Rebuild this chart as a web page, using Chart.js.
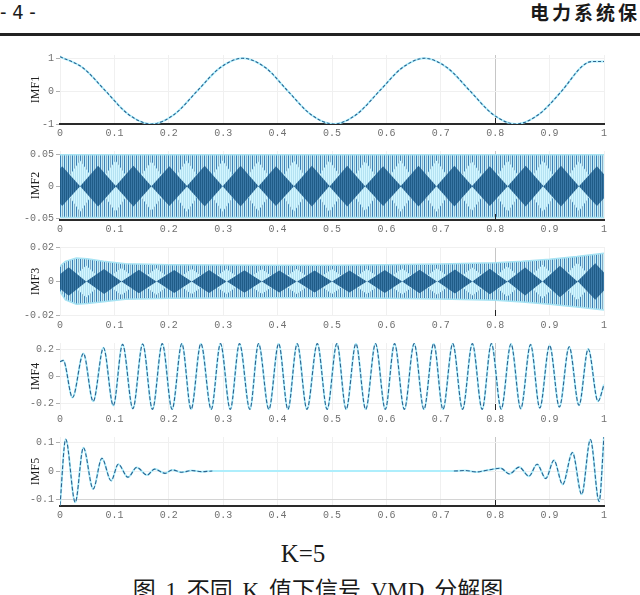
<!DOCTYPE html>
<html><head><meta charset="utf-8">
<script src="https://cdn.jsdelivr.net/npm/chart.js@4/dist/chart.umd.min.js"></script>
<style>
html,body{margin:0;padding:0;background:#fff;width:640px;height:595px;overflow:hidden;position:relative}
canvas{position:absolute;left:0}
.t{position:absolute;white-space:nowrap;color:#1a1a1a}
#pg{left:0;top:1px;font:20px 'Liberation Sans Narrow','DejaVu Sans Condensed',sans-serif;line-height:22px}
#hd{left:530px;top:1px;font:bold 19px 'Noto Sans CJK SC';letter-spacing:3px;line-height:22px}
#rule{position:absolute;left:0;top:33px;width:640px;height:3px;background:#222}
#k{left:0;width:606px;text-align:center;top:541px;font:25px 'Liberation Serif';line-height:25px}
#cap{left:0;width:636px;text-align:center;top:579px;font:23px 'Liberation Serif','Noto Sans CJK SC';line-height:23px;word-spacing:4px}
</style></head><body>
<div class="t" id="pg">- 4 -</div>
<div class="t" id="hd">电力系统保</div>
<div id="rule"></div>
<canvas id="c1"></canvas>
<canvas id="c2"></canvas>
<canvas id="c3"></canvas>
<canvas id="c4"></canvas>
<canvas id="c5"></canvas>
<div class="t" id="k">K=5</div>
<div class="t" id="cap">图 1 不同 K 值下信号 VMD 分解图</div>
<script>
// ---------- data ----------
const xTickValues = [0,0.1,0.2,0.3,0.4,0.5,0.6,0.7,0.8,0.9,1];
const xTickLabels = ['0','0.1','0.2','0.3','0.4','0.5','0.6','0.7','0.8','0.9','1'];
const xGridMark = 0.8;

// IMF1
const imf1T = [0,0.042,0.084,0.126,0.168,0.210,0.252,0.294,0.336,0.378,0.419,0.461,0.503,0.545,0.587,0.629,0.670,0.712,0.754,0.796,0.838,0.880,0.922,0.960,0.978,1.0];
const imf1V = [1.05,0.71,0,-0.71,-1.0,-0.71,0,0.71,1.0,0.71,0,-0.71,-1.0,-0.71,0,0.71,1.0,0.71,0,-0.71,-1.0,-0.71,0,0.76,0.9,0.9];
const imf1YTicks = [-1,0,1];
const imf1YLabels = ['-1','0','1'];

// IMF2 (dense oscillation: band envelope + beat lenses)
const imf2EnvT = [0,0.25,0.5,0.75,1];
const imf2Upper = [0.049,0.049,0.049,0.049,0.049];
const imf2Lower = [-0.049,-0.049,-0.049,-0.049,-0.049];
const imf2DarkT = [0.004,0.070,0.135,0.201,0.266,0.332,0.397,0.463,0.528,0.594,0.659,0.725,0.790,0.856,0.921,0.987];
const imf2DarkA = [0.031,0.032,0.032,0.031,0.032,0.032,0.031,0.032,0.032,0.031,0.032,0.032,0.031,0.032,0.032,0.031];
const imf2LightT = [0.037,0.102,0.168,0.233,0.299,0.364,0.430,0.495,0.561,0.626,0.692,0.757,0.823,0.888,0.954];
const imf2LightA = [0.040,0.040,0.039,0.040,0.040,0.039,0.040,0.040,0.039,0.040,0.040,0.039,0.040,0.040,0.039];
const imf2YTicks = [-0.05,0,0.05];
const imf2YLabels = ['-0.05','0','0.05'];

// IMF3
const imf3EnvT = [0,0.01,0.03,0.05,0.08,0.12,0.2,0.3,0.4,0.5,0.6,0.7,0.8,0.85,0.9,0.95,1.0];
const imf3Upper = [0.009,0.012,0.014,0.0135,0.012,0.0105,0.0100,0.0098,0.0097,0.0097,0.0100,0.0104,0.0112,0.0120,0.0132,0.0148,0.0168];
const imf3Lower = [-0.006,-0.011,-0.0135,-0.013,-0.012,-0.0105,-0.0100,-0.0098,-0.0097,-0.0097,-0.0100,-0.0104,-0.0112,-0.0122,-0.0135,-0.0152,-0.0170];
const imf3DarkT = [0.016,0.081,0.145,0.210,0.274,0.339,0.403,0.468,0.532,0.597,0.661,0.726,0.790,0.855,0.919,0.984];
const imf3DarkA = [0.0085,0.0075,0.0070,0.0068,0.0068,0.0067,0.0066,0.0066,0.0066,0.0068,0.0070,0.0072,0.0076,0.0083,0.0094,0.0108];
const imf3LightT = [0.048,0.113,0.177,0.242,0.306,0.371,0.435,0.500,0.564,0.629,0.693,0.758,0.822,0.887,0.951];
const imf3LightA = [0.0095,0.0082,0.0078,0.0076,0.0075,0.0074,0.0074,0.0074,0.0075,0.0077,0.0079,0.0083,0.0090,0.0100,0.0112];
const imf3YTicks = [-0.02,0,0.02];
const imf3YLabels = ['-0.02','0','0.02'];

// IMF4 (extremes)
const imf4T = [0,0.006,0.023,0.043,0.061,0.080,0.098,0.115,0.134,0.152,0.170,0.188,0.206,0.224,0.241,0.259,0.278,0.295,0.313,0.330,0.349,0.365,0.384,0.402,0.419,0.436,0.454,0.473,0.491,0.509,0.526,0.544,0.562,0.580,0.598,0.615,0.633,0.651,0.669,0.687,0.704,0.722,0.740,0.758,0.776,0.793,0.811,0.829,0.847,0.865,0.882,0.900,0.918,0.936,0.954,0.971,0.989,1.0];
const imf4V = [0.11,0.12,-0.157,0.172,-0.185,0.215,-0.217,0.240,-0.240,0.243,-0.245,0.245,-0.245,0.245,-0.245,0.245,-0.245,0.245,-0.245,0.245,-0.245,0.245,-0.245,0.245,-0.245,0.245,-0.245,0.245,-0.245,0.245,-0.245,0.245,-0.245,0.245,-0.245,0.245,-0.245,0.245,-0.245,0.245,-0.245,0.245,-0.245,0.245,-0.245,0.245,-0.243,0.243,-0.240,0.238,-0.235,0.232,-0.228,0.222,-0.215,0.205,-0.185,-0.06];
const imf4YTicks = [-0.2,0,0.2];
const imf4YLabels = ['-0.2','0','0.2'];

// IMF5
const imf5T = [0,0.0105,0.028,0.043,0.061,0.077,0.094,0.107,0.125,0.141,0.160,0.174,0.193,0.206,0.224,0.242,0.26,0.28,0.5,0.724,0.745,0.765,0.785,0.81,0.826,0.844,0.862,0.877,0.893,0.908,0.924,0.942,0.959,0.975,0.991,1.0];
const imf5V = [-0.12,0.112,-0.11,0.082,-0.063,0.045,-0.034,0.024,-0.022,0.013,-0.014,0.007,-0.008,0.004,-0.004,0.002,-0.002,0,0,0,0.002,-0.003,0.003,0.010,-0.010,0.014,-0.018,0.024,-0.026,0.038,-0.047,0.065,-0.082,0.111,-0.107,0.123];
const imf5FlatFrom = 0.28, imf5FlatTo = 0.724;
const imf5YTicks = [-0.1,0,0.1];
const imf5YLabels = ['-0.1','0','0.1'];

// ---------- styles ----------
const DARK = '#2a6390', CYAN = '#aeeefc';
function stripes(colors){
  const c=document.createElement('canvas'); c.width=colors.length; c.height=1;
  const g=c.getContext('2d'); colors.forEach((col,i)=>{g.fillStyle=col; g.fillRect(i,0,1,1);});
  return g.createPattern(c,'repeat');
}
const pts = (ts,vs)=>ts.map((t,i)=>({x:t,y:vs[i]}));
function lens(ts,as,h,sign){
  const p=[]; ts.forEach((t,i)=>{p.push({x:t-h,y:0},{x:t,y:sign*as[i]},{x:t+h,y:0});}); return p;
}
function lineSets(data, dash, extra){
  return [
    Object.assign({data, borderColor:DARK, borderWidth:1.1, borderDash:dash, cubicInterpolationMode:'monotone', fill:false, order:1}, extra||{}),
    {data, borderColor:CYAN, borderWidth:2, cubicInterpolationMode:'monotone', fill:false, order:2}
  ];
}
function bandSets(envT, up, lo, darkT, darkA, lightT, lightA){
  const h = (lightT[0]-darkT[0]);
  const bandP = stripes(['#3a7fb5','#c4effb','#88aac2','#c4effb']);
  const darkP = stripes(['#1f5b87','#3a78a6']);
  const lightP = stripes(['#d3f6ff','#b4e2f2']);
  const none = 'rgba(0,0,0,0)';
  return [
    {data:pts(envT,up), borderColor:'#a8e4f4', borderWidth:1.5, fill:false, order:1},
    {data:pts(envT,lo), borderColor:'#a8e4f4', borderWidth:1.5, fill:false, order:1},
    {data:lens(darkT,darkA,h,1), borderWidth:0, borderColor:none, backgroundColor:darkP, fill:'+1', order:2},
    {data:lens(darkT,darkA,h,-1), borderWidth:0, borderColor:none, fill:false, order:2},
    {data:lens(lightT,lightA,h,1), borderWidth:0, borderColor:none, backgroundColor:lightP, fill:'+1', order:2},
    {data:lens(lightT,lightA,h,-1), borderWidth:0, borderColor:none, fill:false, order:2},
    {data:pts(envT,up), borderWidth:0, borderColor:none, backgroundColor:bandP, fill:'+1', order:3},
    {data:pts(envT,lo), borderWidth:0, borderColor:none, fill:false, order:3}
  ];
}

// short dark tick at the marked x grid line, placed through the x scale
const markTick = {id:'markTick', afterDraw(chart){
  const xs=chart.scales.x, a=chart.chartArea, g=chart.ctx;
  const px=Math.round(xs.getPixelForValue(xGridMark))+0.5;
  g.save(); g.strokeStyle='#222'; g.lineWidth=1;
  g.beginPath(); g.moveTo(px,a.bottom); g.lineTo(px,a.bottom-6); g.stroke(); g.restore();
}};

const monoFont = {family:"'Liberation Mono', 'DejaVu Sans Mono', monospace", size:10};
function makeChart(id,cfg){
  const cv=document.getElementById(id);
  const padTop=8, axisH=18;
  cv.width=640; cv.height=(cfg.bottom-cfg.top)+padTop+axisH;
  cv.style.top=(cfg.top-padTop)+'px';
  return new Chart(cv,{type:'line',data:{datasets:cfg.datasets},plugins:[markTick],options:{
    responsive:false, animation:false, devicePixelRatio:1,
    layout:{padding:{top:padTop,left:25,right:36,bottom:0}},
    plugins:{legend:{display:false},tooltip:{enabled:false}},
    elements:{point:{radius:0}, line:{tension:0}},
    scales:{
      x:{type:'linear',min:0,max:1,
        afterBuildTicks:s=>{s.ticks=xTickValues.map(v=>({value:v}));},
        afterFit:s=>{s.height=axisH;},
        ticks:{callback:(v,i)=>xTickLabels[i], font:monoFont, color:'#707070', padding:3, maxRotation:0, autoSkip:false},
        grid:{drawTicks:false, color:c=>(c.tick && c.tick.value===xGridMark)?'#c6c6c6':'#f0f0f0', lineWidth:1},
        border:{display:cfg.axisLine, color:'#2a2a2a', width:2}},
      y:{type:'linear',min:cfg.yMin,max:cfg.yMax,
        afterBuildTicks:s=>{s.ticks=cfg.yTicks.map(v=>({value:v}));},
        afterFit:s=>{s.width=35;},
        ticks:{callback:(v,i)=>cfg.yLabels[i], font:monoFont, color:'#707070', padding:2},
        grid:{drawTicks:true, tickLength:4, color:cfg.yGrid||'#f0f0f0', tickColor:'#b0b0b0'},
        border:{display:false},
        title:{display:true,text:cfg.title,font:{family:"'Liberation Serif', serif",size:12},color:'#222',padding:{top:4,bottom:0}}}
    }}});
}

makeChart('c1',{top:55,bottom:124,yMin:-1,yMax:1.1,yTicks:imf1YTicks,yLabels:imf1YLabels,title:'IMF1',axisLine:true,
  datasets:lineSets(pts(imf1T,imf1V),[3,2])});
makeChart('c2',{top:151,bottom:220,yMin:-0.053,yMax:0.055,yTicks:imf2YTicks,yLabels:imf2YLabels,title:'IMF2',axisLine:true,
  datasets:bandSets(imf2EnvT,imf2Upper,imf2Lower,imf2DarkT,imf2DarkA,imf2LightT,imf2LightA)});
makeChart('c3',{top:247,bottom:316,yMin:-0.0205,yMax:0.0205,yTicks:imf3YTicks,yLabels:imf3YLabels,title:'IMF3',axisLine:false,
  datasets:bandSets(imf3EnvT,imf3Upper,imf3Lower,imf3DarkT,imf3DarkA,imf3LightT,imf3LightA)});
makeChart('c4',{top:343,bottom:410,yMin:-0.25,yMax:0.25,yTicks:imf4YTicks,yLabels:imf4YLabels,title:'IMF4',axisLine:false,
  datasets:lineSets(pts(imf4T,imf4V),[4,2])});
makeChart('c5',{top:437,bottom:506,yMin:-0.123,yMax:0.12,yTicks:imf5YTicks,yLabels:imf5YLabels,title:'IMF5',axisLine:true,
  yGrid:c=>(c.tick && c.tick.value===-0.1)?'#d4d4d4':'#f0f0f0',
  datasets:lineSets(pts(imf5T,imf5V),[4,2],{segment:{borderColor:c=>(c.p0.parsed.x>=imf5FlatFrom && c.p1.parsed.x<=imf5FlatTo)?'rgba(0,0,0,0)':DARK}})});
</script>
</body></html>
